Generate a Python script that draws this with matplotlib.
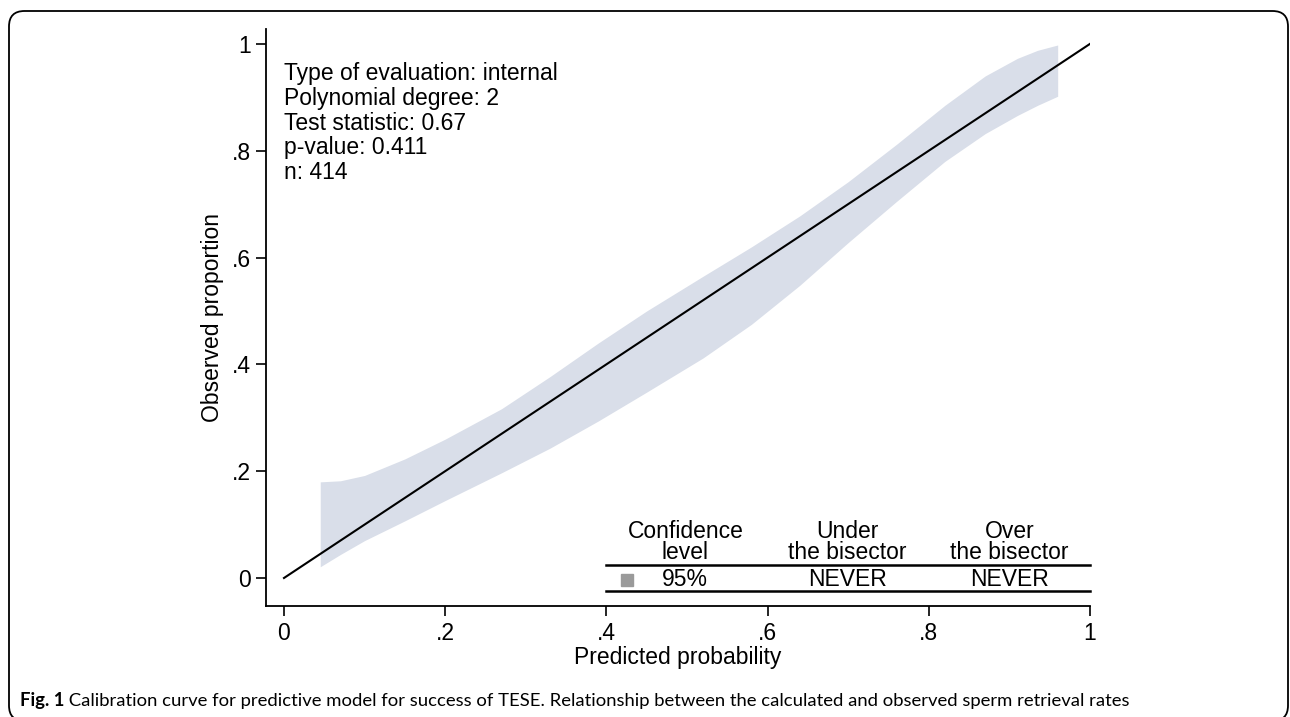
import matplotlib
matplotlib.use('Agg')
from matplotlib import pyplot as plt
from matplotlib.patches import FancyBboxPatch

# calibration band
calib_x = [0.045, 0.07, 0.10, 0.15, 0.20, 0.27, 0.33, 0.39, 0.45, 0.52,
           0.58, 0.64, 0.70, 0.76, 0.82, 0.87, 0.91, 0.935, 0.96]
ci_upper = [0.180, 0.182, 0.192, 0.223, 0.260, 0.317, 0.377, 0.440, 0.500, 0.565,
            0.620, 0.678, 0.742, 0.812, 0.885, 0.940, 0.973, 0.988, 0.998]
ci_lower = [0.021, 0.044, 0.070, 0.107, 0.145, 0.197, 0.243, 0.294, 0.348, 0.412,
            0.475, 0.548, 0.628, 0.705, 0.780, 0.832, 0.866, 0.885, 0.902]

bisector = [0, 1]

ticks = [0, 0.2, 0.4, 0.6, 0.8, 1.0]
tick_labels = ['0', '.2', '.4', '.6', '.8', '1']

info_lines = ['Type of evaluation: internal',
              'Polynomial degree: 2',
              'Test statistic: 0.67',
              'p-value: 0.411',
              'n: 414']

table_headers = ['Confidence\nlevel', 'Under\nthe bisector', 'Over\nthe bisector']
table_row = ['95%', 'NEVER', 'NEVER']
table_cols = [0.498, 0.699, 0.900]

caption_bold = 'Fig. 1'
caption_text = (' Calibration curve for predictive model for success of TESE. '
                'Relationship between the calculated and observed sperm retrieval rates')

plt.rcParams['font.family'] = ['Liberation Sans', 'DejaVu Sans']
fs = 16.5

fig = plt.figure(figsize=(12.9, 7.17), dpi=100)
ax = fig.add_axes([0.2064, 0.1544, 0.6385, 0.8052])

ax.fill_between(calib_x, ci_lower, ci_upper, color='#d9dee9', lw=0)
ax.plot(bisector, bisector, color='black', lw=1.5)

ax.set_xlim(-0.022, 1.0)
ax.set_ylim(-0.053, 1.028)
ax.set_xticks(ticks)
ax.set_xticklabels(tick_labels)
ax.set_yticks(ticks)
ax.set_yticklabels(tick_labels)
ax.tick_params(direction='out', length=7, width=1.2, labelsize=fs, pad=4)
for s in ['top', 'right']:
    ax.spines[s].set_visible(False)
for s in ['left', 'bottom']:
    ax.spines[s].set_linewidth(1.3)

ax.set_xlabel('Predicted probability', fontsize=fs, labelpad=1)
ax.set_ylabel('Observed proportion', fontsize=fs, labelpad=6)

ax.text(0.0, 0.966, '\n'.join(info_lines), fontsize=fs, va='top', ha='left',
        linespacing=1.1)

# table in the lower right corner
for cx, h in zip(table_cols, table_headers):
    ax.text(cx, 0.026, h, fontsize=fs, ha='center', va='bottom', linespacing=0.9)
for cx, v in zip(table_cols, table_row):
    ax.text(cx, -0.003, v, fontsize=fs, ha='center', va='center')
ax.plot([0.4, 1.0], [0.024, 0.024], color='black', lw=1.8, clip_on=False)
ax.plot([0.4, 1.0], [-0.024, -0.024], color='black', lw=1.8, clip_on=False)
ax.plot([0.425], [-0.004], marker='s', color='#9a9a9a', ms=9, ls='none')

# caption
t1 = fig.text(20 / 1290, 1 - 709 / 717, caption_bold, fontsize=13.3, fontweight='bold',
              family='Lato', ha='left', va='bottom')
ax.annotate(caption_text, xy=(1, 0), xycoords=t1, fontsize=13.3, family='Lato',
            ha='left', va='bottom', annotation_clip=False)

# rounded frame
frame = FancyBboxPatch((9 / 1290, -4 / 717), 1279 / 1290, 710 / 717,
                       boxstyle='round,pad=0,rounding_size=0.012',
                       transform=fig.transFigure, fill=False, ec='black', lw=1.3,
                       mutation_aspect=1290 / 717)
fig.patches.append(frame)

fig.savefig('out.png', dpi=100)
